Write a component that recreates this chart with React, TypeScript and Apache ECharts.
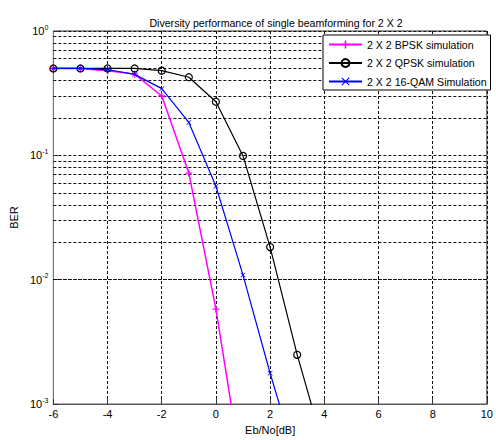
import React, { useEffect, useRef } from "react";
import * as echarts from "echarts";

const xValues = [-6, -5, -4, -3, -2, -1, 0, 1, 2, 3, 4];
const bpsk = [0.5, 0.5, 0.48, 0.45, 0.3, 0.072, 0.0058, 0.00025];
const qpsk = [0.5, 0.5, 0.5, 0.5, 0.48, 0.425, 0.27, 0.099, 0.0183, 0.00249, 0.00043];
const qam16 = [0.5, 0.5, 0.49, 0.448, 0.344, 0.184, 0.0565, 0.0109, 0.00177, 0.00033];
const seriesNames = ["2 X 2 BPSK simulation", "2 X 2 QPSK simulation", "2 X 2 16-QAM Simulation"];
const xTicks = [-6, -4, -2, 0, 2, 4, 6, 8, 10];
const decades = [-3, -2, -1];
const minorMultipliers = [2, 3, 4, 5, 6, 7, 8, 9];

const FONT = "Liberation Sans";

const toPairs = (ys: number[]) => ys.map((y, i) => [xValues[i], y]);

const minorLines: number[] = [];
decades.forEach((d) => minorMultipliers.forEach((m) => minorLines.push(m * Math.pow(10, d))));

const plusPath = "path://M4,0 L6,0 L6,4 L10,4 L10,6 L6,6 L6,10 L4,10 L4,6 L0,6 L0,4 L4,4 Z";
const xPath = "path://M0,1 L1,0 L5,4 L9,0 L10,1 L6,5 L10,9 L9,10 L5,6 L1,10 L0,9 L4,5 Z";

export default function App() {
  const ref = useRef<HTMLDivElement>(null);
  useEffect(() => {
    if (!ref.current) return;
    const chart = echarts.init(ref.current, undefined, { renderer: "svg" });
    const dash = { type: [3, 2] as any, color: "#111", width: 1 };
    chart.setOption({
      animation: false,
      backgroundColor: "#fff",
      textStyle: { fontFamily: FONT },
      title: {
        text: "Diversity performance of single beamforming for 2 X 2",
        left: 271,
        textAlign: "center",
        top: 12,
        textStyle: { fontSize: 10.6, fontWeight: "normal", color: "#000", fontFamily: FONT },
      },
      grid: { left: 51, right: 3, top: 31, bottom: 31, show: true, borderColor: "#333", borderWidth: 1 },
      legend: {
        orient: "vertical",
        left: 323,
        top: 35,
        padding: [4, 4, 3, 5],
        itemWidth: 33,
        itemHeight: 10,
        itemGap: 7.5,
        selectedMode: false,
        backgroundColor: "#fff",
        borderColor: "#000",
        borderWidth: 1,
        borderRadius: 0,
        textStyle: { fontSize: 10.6, color: "#000", fontFamily: FONT },
        data: seriesNames,
      },
      xAxis: {
        type: "value",
        min: -6,
        max: 10,
        interval: 2,
        name: "Eb/No[dB]",
        nameLocation: "middle",
        nameGap: 18,
        nameTextStyle: { fontSize: 11, color: "#000", fontFamily: FONT },
        axisLine: { show: true, onZero: false, lineStyle: { color: "#555" } },
        axisTick: { show: true, inside: true, length: 5, lineStyle: { color: "#333" } },
        axisLabel: { fontSize: 11, color: "#000", margin: 4, fontFamily: FONT,
          formatter: (v: number) => (xTicks.includes(v) ? String(v) : "") },
        splitLine: { show: true, lineStyle: dash },
      },
      yAxis: {
        type: "log",
        logBase: 10,
        min: 0.001,
        max: 1,
        name: "BER",
        nameLocation: "middle",
        nameGap: 29,
        nameTextStyle: { fontSize: 11, color: "#000", fontFamily: FONT },
        axisLine: { show: true, onZero: false, lineStyle: { color: "#777", width: 1 } },
        axisTick: { show: true, inside: true, length: 5, lineStyle: { color: "#333" } },
        axisLabel: {
          margin: 5,
          color: "#000",
          formatter: (v: number) => "{b|10}{s|" + Math.round(Math.log10(v)) + "}",
          rich: {
            b: { fontSize: 11, fontFamily: FONT, color: "#000" },
            s: { fontSize: 7, fontFamily: FONT, color: "#000", padding: [0, 0, 8, 0] },
          },
        },
        splitLine: { show: true, lineStyle: dash },
      },
      series: [
        {
          name: seriesNames[0],
          type: "line",
          data: toPairs(bpsk),
          symbol: plusPath,
          symbolSize: 7,
          lineStyle: { color: "#ff00ff", width: 1.5 },
          itemStyle: { color: "#ff00ff" },
          clip: true,
          z: 3,
          markLine: {
            silent: true,
            symbol: "none",
            label: { show: false },
            lineStyle: { type: [3, 2] as any, color: "#111", width: 1 },
            data: minorLines.map((v) => ({ yAxis: v })),
            z: 1,
          },
        },
        {
          name: seriesNames[1],
          type: "line",
          data: toPairs(qpsk),
          symbol: "circle",
          symbolSize: 7,
          lineStyle: { color: "#000", width: 1.2 },
          itemStyle: { color: "rgba(0,0,0,0)", borderColor: "#000", borderWidth: 1.2 },
          clip: true,
          z: 4,
        },
        {
          name: seriesNames[2],
          type: "line",
          data: toPairs(qam16),
          symbol: xPath,
          symbolSize: 5,
          lineStyle: { color: "#0000ff", width: 1.2 },
          itemStyle: { color: "#0000ff" },
          clip: true,
          z: 5,
        },
      ],
    });
    return () => chart.dispose();
  }, []);
  return (
    <div
      ref={ref}
      style={{ position: "fixed", left: 0, top: 0, width: 496, height: 440, background: "#fff" }}
    />
  );
}
